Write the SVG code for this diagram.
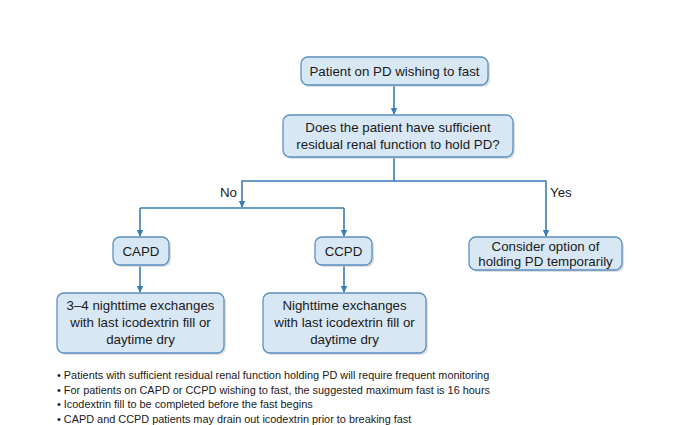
<svg xmlns="http://www.w3.org/2000/svg" width="687" height="425" viewBox="0 0 687 425">
<style>
.box{fill:#d8e7f4;stroke:#5a8fc0;stroke-width:1.3}
.sh{fill:#c4c8cc;opacity:0.6}
.t{font-family:"Liberation Sans",Arial,sans-serif;font-size:13.3px;fill:#1a1a1a;text-anchor:middle}
.lbl{font-family:"Liberation Sans",Arial,sans-serif;font-size:13.3px;fill:#1a1a1a}
.n{font-family:"Liberation Sans",Arial,sans-serif;font-size:10.9px;fill:#1a1a1a}
.c{fill:none;stroke:#3b7bb6;stroke-width:1.6}
</style>
<defs>
<marker id="ah" markerWidth="8" markerHeight="8" refX="6" refY="4" orient="auto" markerUnits="userSpaceOnUse">
<path d="M0,0.8 L7,4 L0,7.2 Z" fill="#3b7bb6"/>
</marker>
</defs>
<rect width="687" height="425" fill="#ffffff"/>
<g id="connectors">
<path class="c" d="M394,85 V114" marker-end="url(#ah)"/>
<path class="c" d="M394,157 V181 H242 V207" marker-end="url(#ah)"/>
<path class="c" d="M394,181 H546 V236" marker-end="url(#ah)"/>
<path class="c" d="M140,208 H344"/>
<path class="c" d="M140,208 V236" marker-end="url(#ah)"/>
<path class="c" d="M344,208 V236" marker-end="url(#ah)"/>
<path class="c" d="M140,266 V292" marker-end="url(#ah)"/>
<path class="c" d="M344,266 V292" marker-end="url(#ah)"/>
<text class="lbl" x="220" y="197">No</text>
<text class="lbl" x="550" y="197">Yes</text>
</g>
<g id="n1">
<rect class="sh" x="303" y="59" width="187" height="28" rx="7"/>
<rect class="box" x="301" y="57" width="187" height="28" rx="7"/>
<text class="t" x="394.5" y="76">Patient on PD wishing to fast</text>
</g>
<g id="n2">
<rect class="sh" x="285" y="117" width="230" height="42" rx="7"/>
<rect class="box" x="283" y="115" width="230" height="42" rx="7"/>
<text class="t" x="398" y="132">Does the patient have sufficient</text>
<text class="t" x="398" y="149">residual renal function to hold PD?</text>
</g>
<g id="capd">
<rect class="sh" x="115" y="239" width="56" height="28" rx="7"/>
<rect class="box" x="113" y="237" width="56" height="28" rx="7"/>
<text class="t" x="141" y="256">CAPD</text>
</g>
<g id="ccpd">
<rect class="sh" x="317" y="239" width="57" height="28" rx="7"/>
<rect class="box" x="315" y="237" width="57" height="28" rx="7"/>
<text class="t" x="343.5" y="256">CCPD</text>
</g>
<g id="hold">
<rect class="sh" x="471" y="239" width="153" height="33" rx="7"/>
<rect class="box" x="469" y="237" width="153" height="33" rx="7"/>
<text class="t" x="545.5" y="251">Consider option of</text>
<text class="t" x="545.5" y="266">holding PD temporarily</text>
</g>
<g id="capd-ex">
<rect class="sh" x="59" y="295" width="167" height="60" rx="7"/>
<rect class="box" x="57" y="293" width="167" height="60" rx="7"/>
<text class="t" x="140.5" y="310">3–4 nighttime exchanges</text>
<text class="t" x="140.5" y="327">with last icodextrin fill or</text>
<text class="t" x="140.5" y="344">daytime dry</text>
</g>
<g id="ccpd-ex">
<rect class="sh" x="265" y="295" width="163" height="60" rx="7"/>
<rect class="box" x="263" y="293" width="163" height="60" rx="7"/>
<text class="t" x="344.5" y="310">Nighttime exchanges</text>
<text class="t" x="344.5" y="327">with last icodextrin fill or</text>
<text class="t" x="344.5" y="344">daytime dry</text>
</g>
<g id="notes">
<text class="n" x="57" y="379">• Patients with sufficient residual renal function holding PD will require frequent monitoring</text>
<text class="n" x="57" y="393.5">• For patients on CAPD or CCPD wishing to fast, the suggested maximum fast is 16 hours</text>
<text class="n" x="57" y="408">• Icodextrin fill to be completed before the fast begins</text>
<text class="n" x="57" y="422.5">• CAPD and CCPD patients may drain out icodextrin prior to breaking fast</text>
</g>
</svg>
